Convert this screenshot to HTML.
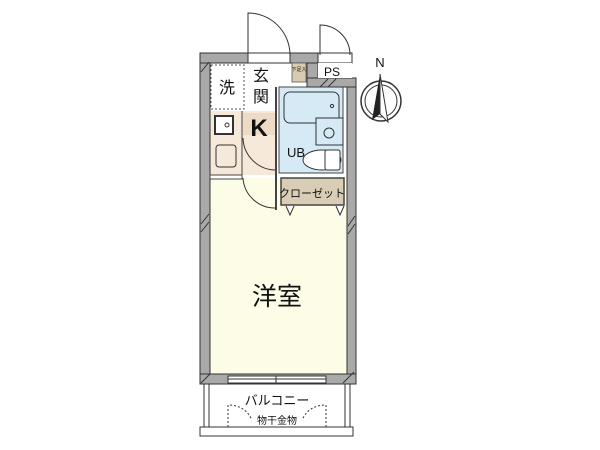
<!DOCTYPE html>
<html><head><meta charset="utf-8"><style>
html,body{margin:0;padding:0;background:#fff;width:600px;height:450px;overflow:hidden}
svg{display:block}
text{font-family:"Liberation Sans","Noto Sans CJK JP",sans-serif;fill:#111}
</style></head><body>
<svg width="600" height="450" viewBox="0 0 600 450">
<rect x="210" y="178" width="137" height="197" fill="#fdfce6"/>
<rect x="210" y="111" width="66" height="64" fill="#f6e9da"/>
<rect x="243" y="113" width="33" height="22" fill="#ecdcc6"/>
<rect x="279" y="87" width="64" height="86" fill="#d6eaf6" stroke="#444" stroke-width="1"/>
<rect x="200" y="53" width="10" height="331" fill="#a9a9a9" stroke="#333"/>
<rect x="347" y="87" width="9" height="297" fill="#a9a9a9" stroke="#333"/>
<rect x="200" y="53" width="48" height="10" fill="#a9a9a9" stroke="#333"/>
<rect x="290" y="53" width="28" height="10" fill="#a9a9a9" stroke="#333"/>
<rect x="307" y="63" width="11" height="24" fill="#a9a9a9" stroke="#333"/>
<rect x="307" y="78" width="49" height="9" fill="#a9a9a9" stroke="#333"/>
<rect x="200" y="374" width="156" height="10" fill="#a9a9a9" stroke="#333"/>
<rect x="228" y="376" width="98" height="7" fill="#fff" stroke="#333"/>
<line x1="228" y1="379" x2="326" y2="379" stroke="#333"/>
<line x1="276" y1="376" x2="276" y2="383" stroke="#333"/>
<g stroke="#333" stroke-width="1">
<line x1="201" y1="72" x2="209" y2="62"/><line x1="201" y1="224" x2="209" y2="214"/><line x1="201" y1="232" x2="209" y2="222"/>
<line x1="201" y1="383" x2="210" y2="374"/><line x1="348" y1="226" x2="355" y2="216"/><line x1="348" y1="234" x2="355" y2="224"/>
<line x1="343" y1="383" x2="354" y2="372"/><line x1="320" y1="87" x2="328" y2="79"/><line x1="328" y1="87" x2="336" y2="79"/>
</g>
<rect x="248" y="53" width="42" height="10" fill="#fff" stroke="#333"/>
<rect x="318" y="53" width="34" height="10" fill="#fff" stroke="#333"/>
<path d="M248 55 V13 A42 42 0 0 1 290 55" fill="none" stroke="#333"/>
<path d="M320 55 V25 A30 30 0 0 1 350 55" fill="none" stroke="#333"/>
<rect x="318" y="63" width="34" height="15" fill="#fff"/>
<text x="324" y="76" font-size="12">PS</text>
<rect x="292" y="63" width="14" height="19" fill="#d9cbb2" stroke="#555" stroke-width=".8"/>
<text x="299" y="71" font-size="5" text-anchor="middle">下足入</text>
<rect x="211" y="65" width="33" height="44" fill="#fff" stroke="#555" stroke-dasharray="2,2"/>
<text x="227" y="93" font-size="16" text-anchor="middle">洗</text>
<text x="261" y="81" font-size="16" text-anchor="middle">玄</text>
<text x="261" y="102" font-size="16" text-anchor="middle">関</text>
<text x="259" y="136" font-size="24" font-weight="bold" text-anchor="middle">K</text>
<line x1="242" y1="111" x2="242" y2="175" stroke="#444"/>
<rect x="215" y="116" width="18" height="18" fill="#fff" stroke="#333" stroke-width="2"/>
<circle cx="227" cy="125" r="2" fill="none" stroke="#333"/>
<rect x="216" y="145" width="20" height="22" rx="3" fill="none" stroke="#333"/>
<path d="M243 138 A33 33 0 0 0 276 170" fill="none" stroke="#333"/>
<rect x="210" y="175" width="32" height="4" fill="#fff" stroke="#444"/>
<path d="M243 178 A32 32 0 0 0 275 208" fill="none" stroke="#333"/>
<line x1="276" y1="87" x2="276" y2="210" stroke="#444" stroke-width="2"/>
<rect x="284" y="92" width="55" height="31" rx="6" fill="#d6eaf6" stroke="#333"/>
<circle cx="332" cy="106" r="1.6" fill="none" stroke="#333"/>
<rect x="316" y="118" width="27" height="27" fill="#d6eaf6" stroke="#333"/>
<circle cx="329" cy="133" r="5" fill="none" stroke="#333"/>
<text x="287" y="157" font-size="13">UB</text>
<ellipse cx="322" cy="160" rx="19" ry="10" fill="#fff" stroke="#333"/>
<rect x="325" y="150" width="15" height="20" rx="2" fill="#fff" stroke="#333"/>
<rect x="281" y="178" width="63" height="27" fill="#d9cdb5" stroke="#444" stroke-width="1.5"/>
<text x="312" y="197" font-size="11" text-anchor="middle">クローゼット</text>
<path d="M286 206 l4 9 l4 -9 M336 206 l4 9 l4 -9" fill="#fff" stroke="#333"/>
<text x="277" y="305" font-size="25" text-anchor="middle">洋室</text>
<rect x="204" y="384" width="5" height="44" fill="#fff" stroke="#333"/>
<rect x="345" y="384" width="5" height="44" fill="#fff" stroke="#333"/>
<rect x="200" y="427" width="153" height="9" fill="#fff" stroke="#333"/>
<text x="277" y="405" font-size="13" text-anchor="middle">バルコニー</text>
<text x="277" y="424" font-size="10" text-anchor="middle">物干金物</text>
<path d="M228 427 V405 Q245 405 252 420 M326 427 V405 Q309 405 302 420" fill="none" stroke="#333" stroke-dasharray="2,2"/>
<text x="380" y="67" font-size="13" text-anchor="middle" font-family="Liberation Serif">N</text>
<circle cx="381" cy="101" r="20" fill="none" stroke="#333" stroke-width="1.5"/>
<circle cx="381" cy="101" r="16" fill="none" stroke="#333"/>
<path d="M380 74 L372 120 L380 114 Z" fill="#222"/>
<path d="M380 74 L388 122 L380 114 Z" fill="#fff" stroke="#333"/>
</svg>
</body></html>
